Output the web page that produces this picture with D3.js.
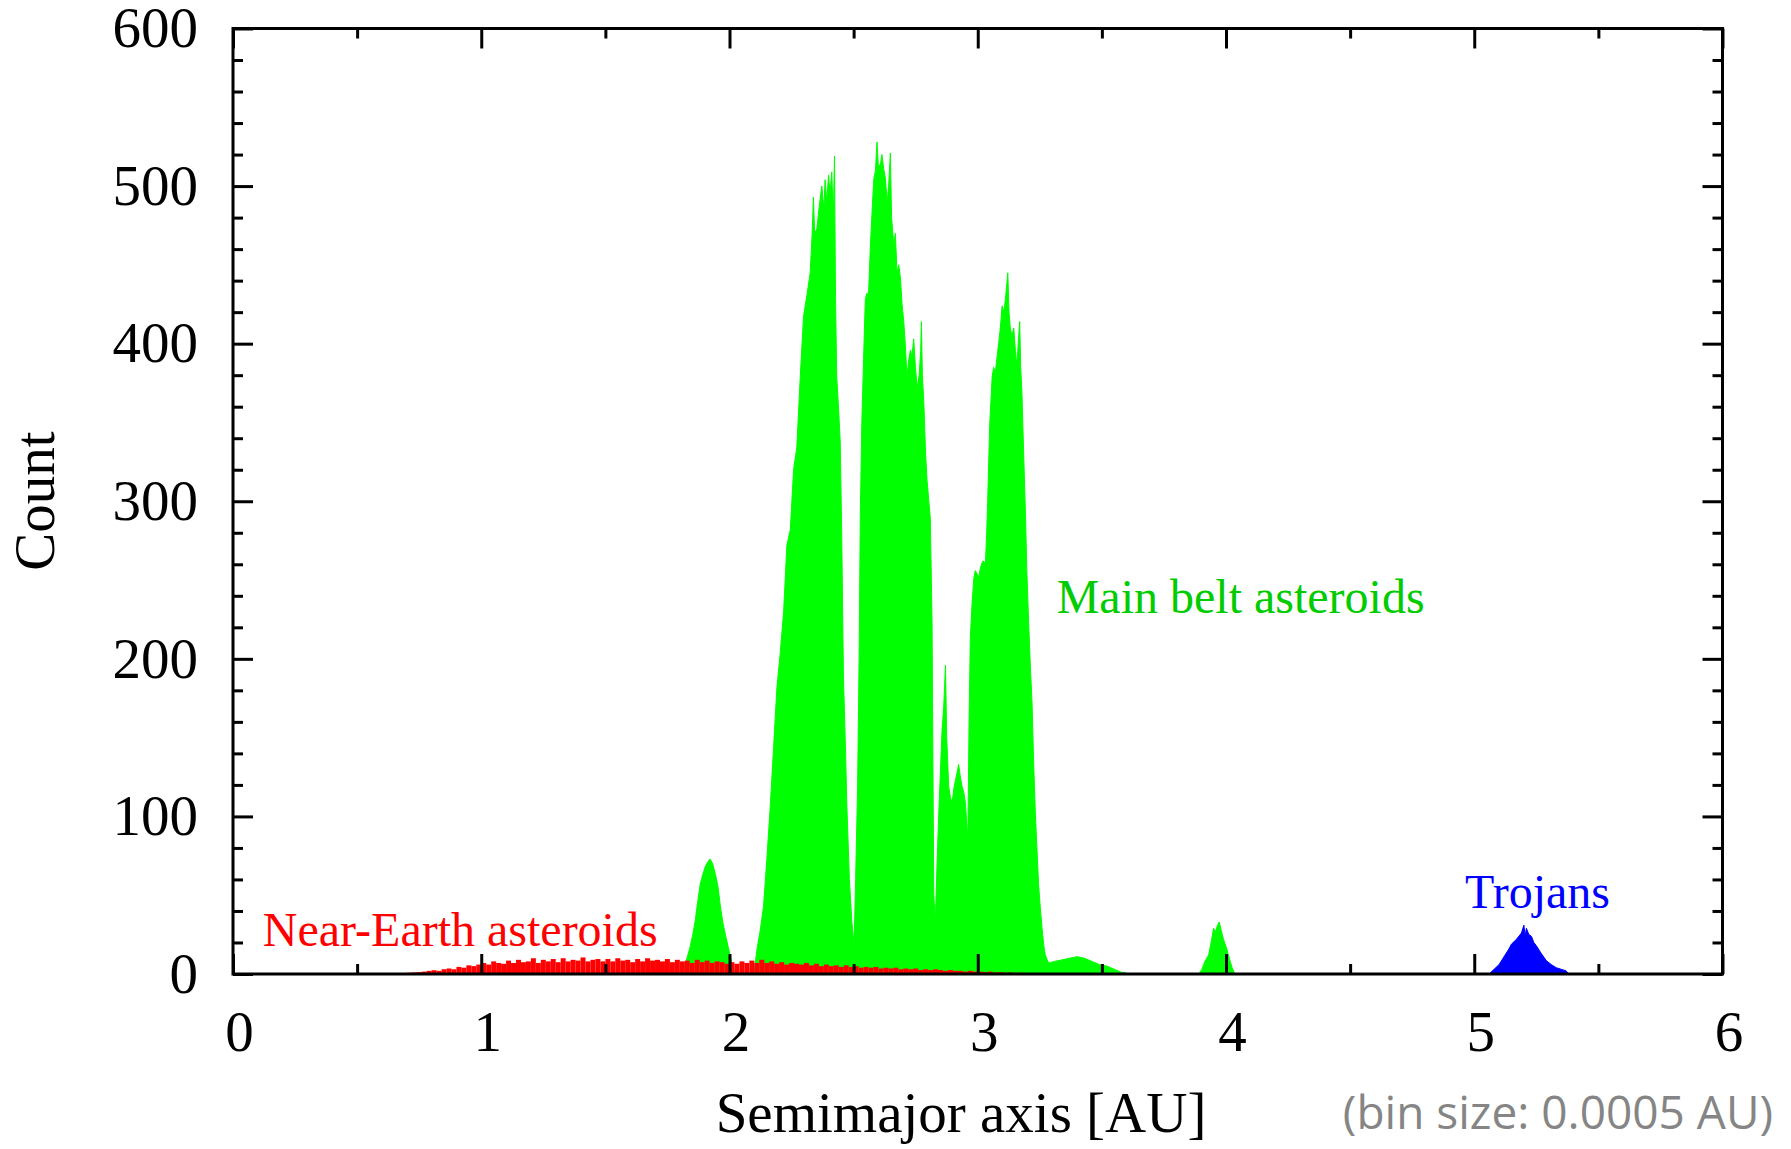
<!DOCTYPE html>
<html>
<head>
<meta charset="utf-8">
<script src="https://cdn.jsdelivr.net/npm/d3@7"></script>
<style>
  body { margin: 0; background: #fff; }
  svg { display: block; }
</style>
</head>
<body>
<div id="chart"></div>
<script>
const ancho = 1791
const alto = 1149
const margen = { superior: 28.5, inferior: 175, izquierdo: 233, derecho: 68.5 }

// histogram profiles: [semimajor axis AU, count]
const hungaria = [[1.78,0],[1.813,2],[1.825,8],[1.841,17],[1.852,25],[1.862,34],[1.872,46],[1.882,57],[1.892,63],[1.902,68],[1.912,71],[1.922,73],[1.932,70],[1.944,63],[1.954,55],[1.964,42],[1.974,32],[1.985,24],[1.995,17],[2.008,8],[2.02,2],[2.04,0.5],[2.08,0.5],[2.10,2]]

const mainBelt = [[2.10,2],[2.110,15],[2.124,28],[2.137,43],[2.150,72],[2.164,106],[2.178,145],[2.191,182],[2.204,203],[2.218,230],[2.231,272],[2.245,282],[2.258,320],[2.271,334],[2.285,379],[2.298,417],[2.312,431],[2.325,445],[2.333,470],[2.338,493],[2.343,470],[2.352,473],[2.362,488],[2.372,500],[2.380,485],[2.385,504],[2.392,490],[2.399,507],[2.405,495],[2.412,509],[2.418,480],[2.423,519],[2.427,430],[2.432,379],[2.439,360],[2.446,338],[2.452,280],[2.459,189],[2.466,150],[2.473,106],[2.483,60],[2.493,33],[2.502,19],
  [2.508,60],[2.516,119],[2.522,200],[2.527,293],[2.533,350],[2.540,390],[2.547,428],[2.553,432],[2.560,431],[2.567,460],[2.574,483],[2.581,504],[2.588,510],[2.594,528],[2.600,512],[2.608,514],[2.614,520],[2.621,511],[2.628,505],[2.635,490],[2.641,500],[2.648,521],[2.653,480],[2.662,462],[2.668,470],[2.675,445],[2.682,450],[2.689,441],[2.695,425],[2.702,414],[2.708,400],[2.715,379],[2.722,390],[2.729,396],[2.735,392],[2.742,403],[2.749,385],[2.756,372],[2.764,380],[2.770,395],[2.773,414],[2.777,380],[2.783,362],[2.790,330],[2.796,313],[2.803,300],[2.809,289],[2.816,223],[2.820,120],[2.823,50],[2.829,33],
  [2.836,70],[2.843,102],[2.850,130],[2.856,154],[2.863,170],[2.870,196],[2.875,150],[2.883,119],[2.890,112],[2.897,109],[2.904,118],[2.910,123],[2.917,128],[2.923,133],[2.930,125],[2.937,119],[2.944,115],[2.950,109],[2.956,95],[2.960,85],
  [2.965,160],[2.970,213],[2.977,235],[2.984,251],[2.990,256],[2.997,254],[3.004,252],[3.011,258],[3.020,262],[3.031,261],[3.036,280],[3.040,300],[3.048,348],[3.058,379],[3.064,385],[3.071,382],[3.078,392],[3.084,400],[3.091,410],[3.098,424],[3.105,420],[3.111,428],[3.116,436],[3.121,445],[3.126,420],[3.131,410],[3.138,405],[3.145,410],[3.152,395],[3.158,386],[3.163,400],[3.169,414],[3.173,385],[3.178,369],[3.185,330],[3.192,293],[3.198,255],[3.205,223],[3.212,195],[3.219,171],[3.225,135],[3.232,102],[3.239,78],[3.245,57],[3.252,42],[3.259,29],[3.266,18],[3.272,12]]

const cybele = [[3.272,12],[3.285,7],[3.31,8],[3.34,9],[3.37,10],[3.40,11],[3.43,10],[3.46,8],[3.49,6],[3.52,5],[3.55,3],[3.58,1],[3.62,0]]

const hildas = [[3.89,0],[3.903,3],[3.915,8],[3.93,12],[3.94,20],[3.95,29],[3.958,27],[3.966,31],[3.973,33],[3.98,28],[3.99,22],[4.003,16],[4.015,9],[4.025,4],[4.035,0]]

const trojans = [[5.06,0],[5.08,3],[5.10,6],[5.12,11],[5.14,16],[5.15,19],[5.17,22],[5.19,26],[5.20,31],[5.205,24],[5.21,29],[5.22,25],[5.23,24],[5.24,20],[5.25,18],[5.27,13],[5.29,8.5],[5.31,6],[5.33,4],[5.35,3],[5.37,2],[5.38,0]]

// near-earth asteroids, bins starting at neaStart every neaStep AU
const neaStart = 0.66
const neaStep = 0.02
const neaCount = [0.3,0.5,0.8,1,1.2,1.5,2,2.4,2,3,3.5,3,4.5,4,5.5,5,6,
  7,6,8,7,6.5,8.5,7,9,7.5,8,10,7,9,8,9.5,7.5,10,8,9,8.5,10.5,8,9,9.5,8,
  9.5,8,10,8.5,9,7.5,9.5,8,10,8.5,9,8,9.5,7.5,9,8,8.5,7,9,7.5,8.5,7,8,7.5,6.5,
  7.5,6.5,8,7,8.5,7,9,7,8,6.5,7.5,6,7,6.5,6,7,5.5,6.5,5,6,5,5.5,4.5,5.5,4.5,
  5,4,4.5,4,4.5,3.5,4,3.5,4,3,3.5,3,3.5,2.5,3,2.5,3,2.5,2,2.5,2,2,1.5,2,1.5,
  1.5,1.2,1.5,1,1.2,0.8,1,0.7,0.8,0.5,0.6,0.4,0.5,0.3,0.3,0.2]

const xMajor = [0, 1, 2, 3, 4, 5, 6]
const yMajor = [0, 100, 200, 300, 400, 500, 600]

const etiquetas = [
  { texto: "Main belt asteroids", au: 3.318, cuenta: 229, color: "#00cc00" },
  { texto: "Near-Earth asteroids", au: 0.12, cuenta: 18, color: "#ff0000" },
  { texto: "Trojans", au: 4.963, cuenta: 42, color: "#0000ff" }
]

const svg = d3.select("#chart").append("svg")
  .attr("width", ancho)
  .attr("height", alto)

const ancho2 = ancho - margen.izquierdo - margen.derecho
const alto2 = alto - margen.superior - margen.inferior

const x = d3.scaleLinear().domain([0, 6]).range([0, ancho2])
const y = d3.scaleLinear().domain([0, 600]).range([alto2, 0])

const g = svg.append("g")
  .attr("transform", `translate(${margen.izquierdo},${margen.superior})`)

const area = d3.area()
  .x(d => x(d[0]))
  .y0(y(0))
  .y1(d => y(d[1]))

const verde = "#00ff00"
;[hungaria, mainBelt, cybele, hildas].forEach(serie => {
  g.append("path").datum(serie)
    .attr("d", area)
    .attr("fill", verde)
    .attr("stroke", verde)
    .attr("stroke-width", 1)
})

g.append("path").datum(trojans)
  .attr("d", area)
  .attr("fill", "#0000ff")
  .attr("stroke", "#0000ff")
  .attr("stroke-width", 1)

// NEA bars on top
g.append("g").selectAll("rect")
  .data(neaCount)
  .join("rect")
    .attr("x", (d, i) => x(neaStart + i * neaStep))
    .attr("width", (d, i) => x(neaStart + (i + 1) * neaStep) - x(neaStart + i * neaStep))
    .attr("y", d => y(d))
    .attr("height", d => y(0) - y(d))
    .attr("fill", "#ff0000")

// ejes
const fuente = "'Liberation Serif', 'Times New Roman', serif"
const mayor = 20, menor = 10

const xMinor = d3.range(0.5, 6, 1)
const yMinor = d3.range(0, 601, 20).filter(v => v % 100 !== 0)

function estilo(sel) {
  sel.select(".domain").remove()
  sel.selectAll("line").attr("stroke", "#000").attr("stroke-width", 3)
  sel.selectAll("text").attr("font-family", fuente).attr("font-size", 57).attr("fill", "#000")
}

g.append("g").attr("transform", `translate(0,${alto2})`)
  .call(d3.axisBottom(x).tickValues(xMajor).tickSize(-mayor).tickPadding(37).tickFormat(d3.format("d")))
  .call(estilo)
  .selectAll("text").attr("dx", 6)
g.append("g").attr("transform", `translate(0,${alto2})`)
  .call(d3.axisBottom(x).tickValues(xMinor).tickSize(-menor).tickFormat(""))
  .call(estilo)
g.append("g")
  .call(d3.axisTop(x).tickValues(xMajor).tickSize(-mayor).tickFormat(""))
  .call(estilo)
g.append("g")
  .call(d3.axisTop(x).tickValues(xMinor).tickSize(-menor).tickFormat(""))
  .call(estilo)

g.append("g")
  .call(d3.axisLeft(y).tickValues(yMajor).tickSize(-mayor).tickPadding(35))
  .call(estilo)
g.append("g")
  .call(d3.axisLeft(y).tickValues(yMinor).tickSize(-menor).tickFormat(""))
  .call(estilo)
g.append("g").attr("transform", `translate(${ancho2},0)`)
  .call(d3.axisRight(y).tickValues(yMajor).tickSize(-mayor).tickFormat(""))
  .call(estilo)
g.append("g").attr("transform", `translate(${ancho2},0)`)
  .call(d3.axisRight(y).tickValues(yMinor).tickSize(-menor).tickFormat(""))
  .call(estilo)

g.append("rect")
  .attr("width", ancho2)
  .attr("height", alto2)
  .attr("fill", "none")
  .attr("stroke", "#000")
  .attr("stroke-width", 3)

// etiquetas
g.selectAll(".etiqueta")
  .data(etiquetas)
  .join("text")
    .attr("class", "etiqueta")
    .attr("x", d => x(d.au))
    .attr("y", d => y(d.cuenta))
    .attr("font-family", fuente)
    .attr("font-size", 48)
    .attr("fill", d => d.color)
    .text(d => d.texto)

svg.append("text")
  .attr("x", 961)
  .attr("y", 1132)
  .attr("text-anchor", "middle")
  .attr("font-family", fuente)
  .attr("font-size", 57)
  .text("Semimajor axis [AU]")

svg.append("text")
  .attr("transform", "translate(54,501) rotate(-90)")
  .attr("text-anchor", "middle")
  .attr("font-family", fuente)
  .attr("font-size", 57)
  .text("Count")

svg.append("text")
  .attr("x", 1773)
  .attr("y", 1129)
  .attr("text-anchor", "end")
  .attr("font-family", "'Open Sans', 'Noto Sans', sans-serif")
  .attr("font-size", 46)
  .attr("fill", "#858585")
  .text("(bin size: 0.0005 AU)")
</script>
</body>
</html>
